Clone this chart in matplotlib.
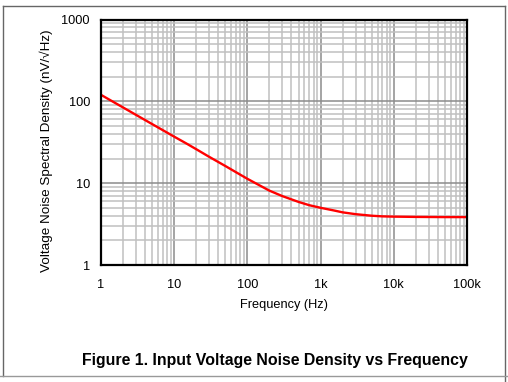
import matplotlib
matplotlib.use("Agg")
import matplotlib.pyplot as plt
from matplotlib.lines import Line2D
from matplotlib.ticker import LogLocator, NullFormatter

plt.rcParams['font.family'] = ['Liberation Sans', 'DejaVu Sans']

freq = [1, 1.5, 2, 3, 5, 7, 10, 15, 20, 30, 50, 70, 100, 150, 200, 300, 500, 700,
        1000, 1500, 2000, 3000, 5000, 7000, 10000, 20000, 50000, 100000]
noise = [120, 97.5, 84.2, 68.4, 52.7, 44.4, 37, 30.2, 26.0, 21.0, 16.2, 13.6, 11.3, 9.3, 8.1, 6.95,
         5.9, 5.38, 5.0, 4.65, 4.4, 4.18, 4.0, 3.93, 3.9, 3.87, 3.85, 3.85]
xticks = [1, 10, 100, 1000, 10000, 100000]
xticklabels = ['1', '10', '100', '1k', '10k', '100k']
yticks = [1, 10, 100, 1000]
yticklabels = ['1', '10', '100', '1000']

W, H = 508, 382
fig = plt.figure(figsize=(W/100, H/100), dpi=100)
L, R, T, B = 101, 467, 19.5, 265
ax = fig.add_axes([L/W, 1 - B/H, (R-L)/W, (B-T)/H])
ax.set_xscale('log')
ax.set_yscale('log')
ax.set_xlim(1, 100000)
ax.set_ylim(1, 1000)

ax.xaxis.set_minor_locator(LogLocator(base=10, subs=range(2, 10), numticks=20))
ax.yaxis.set_minor_locator(LogLocator(base=10, subs=range(2, 10), numticks=20))
ax.xaxis.set_minor_formatter(NullFormatter())
ax.yaxis.set_minor_formatter(NullFormatter())
ax.set_xticks(xticks)
ax.set_xticklabels(xticklabels)
ax.set_yticks(yticks)
ax.set_yticklabels(yticklabels)
ax.grid(which='minor', color='#c0c0c0', linewidth=1.1)
ax.grid(which='major', color='#8c8c8c', linewidth=1.1)
ax.set_axisbelow(True)
ax.tick_params(which='both', length=0, labelsize=9.2)
ax.tick_params(axis='x', pad=10)
ax.tick_params(axis='y', pad=8)

for s in ax.spines.values():
    s.set_linewidth(1.6)
    s.set_color('black')

ax.plot(freq, noise, color='#ff0000', linewidth=1.7)

ax.set_xlabel('Frequency (Hz)', fontsize=9.2, labelpad=6)
ax.set_ylabel('Voltage Noise Spectral Density (nV/\u221aHz)', fontsize=9.7, labelpad=4)
ax.yaxis.set_label_coords(-0.132, 0.464)

fig.text(275/W, 1 - 360/H, 'Figure 1. Input Voltage Noise Density vs Frequency',
         ha='center', va='center', fontsize=11.4, fontweight='bold')

# outer frame
fc = '#666666'
fig.add_artist(Line2D([3/W, 3/W], [1 - 6/H, 1 - 376/H], color=fc, linewidth=1))
fig.add_artist(Line2D([3/W, 505/W], [1 - 6/H, 1 - 6/H], color=fc, linewidth=1))
fig.add_artist(Line2D([505/W, 505/W], [1 - 6/H, 1 - 382/H], color=fc, linewidth=1))
fig.add_artist(Line2D([0, 1], [1 - 376/H, 1 - 376/H], color='#999999', linewidth=1))

fig.savefig('out.png', dpi=100)
